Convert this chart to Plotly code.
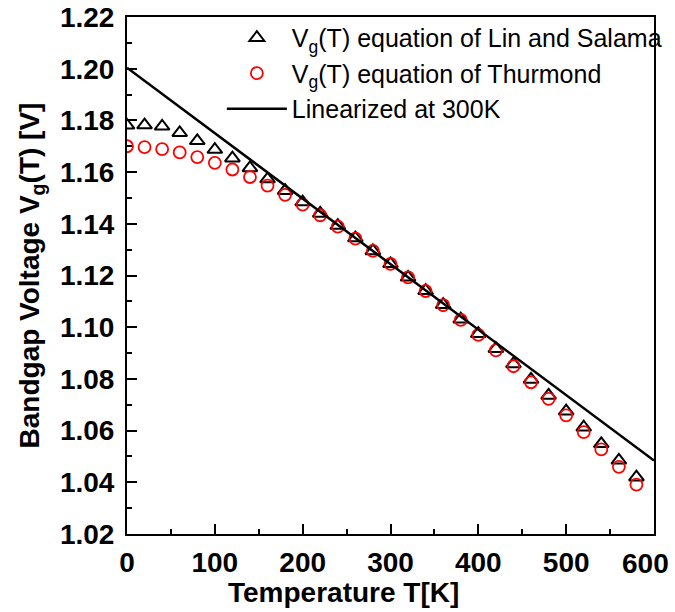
import plotly.graph_objects as go

# Temperature samples [K]
temps = [0, 20, 40, 60, 80, 100, 120, 140, 160, 180, 200, 220, 240, 260, 280,
         300, 320, 340, 360, 380, 400, 420, 440, 460, 480, 500, 520, 540, 560, 580]

# Vg(T) equation of Lin and Salama [V]
vg_lin_salama = [1.1781, 1.1782, 1.1777, 1.1752, 1.1721, 1.1687, 1.1654, 1.1616,
                 1.1573, 1.1528, 1.1484, 1.1440, 1.1393, 1.1345, 1.1295, 1.1245,
                 1.1193, 1.1141, 1.1087, 1.1031, 1.0975, 1.0917, 1.0858, 1.0798,
                 1.0736, 1.0675, 1.0613, 1.0549, 1.0485, 1.0420]

# Vg(T) equation of Thurmond [V]
vg_thurmond = [1.1700, 1.1697, 1.1689, 1.1676, 1.1658, 1.1636, 1.1610, 1.1581,
               1.1548, 1.1512, 1.1474, 1.1433, 1.1389, 1.1343, 1.1295, 1.1245,
               1.1193, 1.1140, 1.1085, 1.1028, 1.0970, 1.0910, 1.0849, 1.0787,
               1.0723, 1.0659, 1.0594, 1.0527, 1.0460, 1.0391]

# Linearized at 300K (end points)
lin_temps = [0, 600]
lin_vg = [1.2004, 1.0484]

y_ticks = [1.02, 1.04, 1.06, 1.08, 1.10, 1.12, 1.14, 1.16, 1.18, 1.20, 1.22]
y_tick_labels = ["1.02", "1.04", "1.06", "1.08", "1.10", "1.12", "1.14",
                 "1.16", "1.18", "1.20", "1.22"]
x_ticks = [0, 100, 200, 300, 400, 500, 600]
x_tick_labels = ["0", "100", "200", "300", "400", "500", ""]
last_x_label = "600"  # drawn separately, nudged inside the window like the original
x_title = "Temperature T[K]"
y_title = "Bandgap Voltage V<sub>g</sub>(T) [V]"

FONT = "Arial, Liberation Sans, sans-serif"

fig = go.Figure()
fig.add_trace(go.Scatter(
    x=temps, y=vg_lin_salama, mode="markers",
    name="V<sub>g</sub>(T) equation of Lin and Salama",
    marker=dict(symbol="triangle-up-open", size=13, color="black",
                line=dict(width=2, color="black")),
))
fig.add_trace(go.Scatter(
    x=temps, y=vg_thurmond, mode="markers",
    name="V<sub>g</sub>(T) equation of Thurmond",
    marker=dict(symbol="circle-open", size=12, color="red",
                line=dict(width=1.8, color="red")),
))
fig.add_trace(go.Scatter(
    x=lin_temps, y=lin_vg, mode="lines",
    name="Linearized at 300K",
    line=dict(color="black", width=2.5),
))

tick_font = dict(family=FONT, size=28, color="black", weight="bold")
title_font = dict(family=FONT, size=28, color="black", weight="bold")

axis_common = dict(
    showgrid=False, zeroline=False, automargin=False,
    showline=True, linecolor="black", linewidth=2, mirror=True,
    ticks="inside", ticklen=10, tickwidth=1.5, tickcolor="black",
    ticklabeloverflow="allow",
    tickfont=tick_font,
)

fig.update_xaxes(
    range=[0, 600], tickvals=x_ticks, ticktext=x_tick_labels, ticklabelstandoff=2,
    minor=dict(ticks="inside", ticklen=5, tickwidth=1.5, tickcolor="black", dtick=50),
    **axis_common,
)
fig.update_yaxes(
    range=[1.02, 1.22], tickvals=y_ticks, ticktext=y_tick_labels, ticklabelstandoff=5,
    minor=dict(ticks="inside", ticklen=5, tickwidth=1.5, tickcolor="black", dtick=0.01),
    title=dict(text=y_title, standoff=12, font=title_font),
    **axis_common,
)

fig.add_annotation(
    text=last_x_label, x=x_ticks[-1], xref="x", y=0, yref="paper",
    xanchor="center", yanchor="middle", xshift=-9, yshift=-29,
    showarrow=False, font=tick_font,
)
# x-axis title, placed left of centre as in the original
fig.add_annotation(
    text=x_title, x=0.5, xref="paper", y=0, yref="paper",
    xanchor="center", yanchor="middle", xshift=-47, yshift=-58,
    showarrow=False, font=title_font,
)

fig.update_layout(
    width=675, height=612,
    margin=dict(l=127, r=21, t=17, b=78, autoexpand=False),
    paper_bgcolor="white", plot_bgcolor="white",
    font=dict(family=FONT, color="black"),
    legend=dict(
        x=0.18, y=1.004, xanchor="left", yanchor="top",
        bgcolor="rgba(0,0,0,0)", borderwidth=0,
        font=dict(family=FONT, size=25, color="black"),
        itemwidth=60, tracegroupgap=0,
    ),
    showlegend=True,
)

fig.write_html(
    "out.html",
    config={"displayModeBar": False},
    post_script="document.body.style.margin='0';document.body.style.overflow='hidden';",
)
